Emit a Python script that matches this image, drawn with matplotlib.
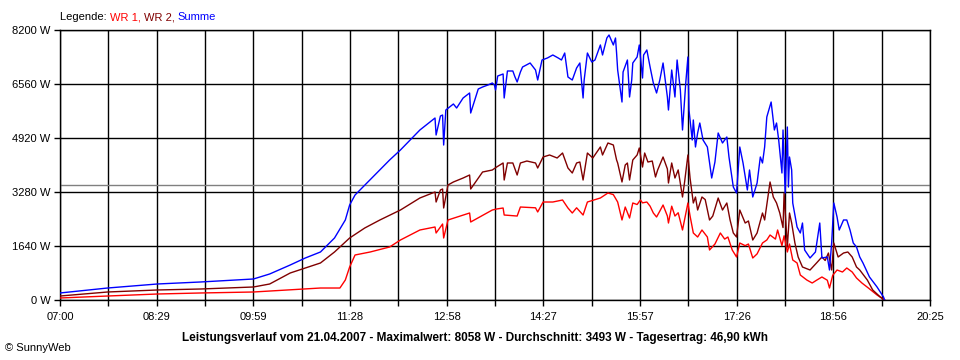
import numpy as np
import matplotlib
matplotlib.use("Agg")
import matplotlib.pyplot as plt

plt.rcParams["font.family"] = ["Liberation Sans", "DejaVu Sans"]

# time axis: minutes after 07:00, values in W
wr1_t = [0, 44, 90, 130, 179, 241, 259, 264, 268, 273, 287, 305, 315, 333, 347, 348, 354, 355, 359,
         379, 380, 400, 404, 410, 411, 423, 426, 440, 442, 447, 456, 465, 470, 474, 478, 484, 488,
         500, 507, 512, 516, 520, 523, 527, 530, 534, 537, 539, 543, 546, 549, 552, 555, 558, 562,
         563, 566, 569, 572, 576, 581, 583, 586, 590, 594, 599, 601, 606, 611, 615, 618, 622, 626,
         629, 634, 637, 641, 645, 650, 654, 657, 662, 664, 668, 670, 673, 675, 678, 682, 685, 691,
         696, 700, 705, 710, 712, 715, 719, 724, 728, 733, 737, 742, 748, 756, 763]
wr1_w = [61, 121, 182, 213, 243, 364, 364, 607, 1002, 1367, 1458, 1610, 1822, 2126, 2217, 2035, 2308, 1883, 2430,
         2642, 2369, 2733, 2764, 2794, 2581, 2550, 2824, 2800, 2673, 2976, 2976, 3037, 2794, 2642, 2800, 2581, 2976,
         3098, 3250, 3200, 2976, 2430, 2824, 2490, 2946, 2900, 3037, 2950, 2976, 2850, 2642, 2521, 2700, 2885, 2550,
         2338, 2850, 2550, 2650, 2126, 2946, 2550, 2035, 1913, 2126, 1913, 1519, 1700, 2035, 1850, 1913, 1519, 1306,
         1731, 1650, 1700, 1276, 1400, 1731, 1822, 1974, 1850, 2126, 1650, 1950, 1458, 1700, 1215, 1124, 759, 607,
         516, 600, 699, 600, 364, 750, 911, 850, 972, 850, 668, 516, 364, 152, 0]

wr2_t = [0, 44, 90, 130, 179, 194, 213, 227, 241, 254, 268, 282, 296, 315, 333, 347, 348, 352, 354,
         355, 359, 364, 373, 379, 380, 391, 400, 404, 410, 411, 414, 419, 423, 426, 432, 440, 442,
         447, 453, 460, 465, 470, 474, 478, 481, 484, 488, 493, 500, 502, 507, 512, 515, 516, 520,
         523, 525, 527, 530, 534, 536, 539, 541, 544, 548, 551, 553, 558, 562, 563, 566, 569, 572,
         576, 578, 581, 583, 586, 588, 590, 594, 597, 601, 604, 609, 613, 617, 620, 623, 626, 629,
         634, 637, 641, 645, 650, 652, 657, 660, 663, 666, 669, 670, 673, 675, 677, 680, 683, 687,
         694, 700, 705, 708, 711, 714, 716, 720, 725, 729, 733, 737, 740, 747, 752, 759, 763]
wr2_w = [121, 243, 304, 334, 395, 486, 820, 972, 1124, 1458, 1883, 2187, 2430, 2733, 3098, 3280, 2976, 3341, 3371,
         2794, 3493, 3584, 3705, 3796, 3371, 3887, 3948, 4039, 4161, 3644, 4161, 4161, 3796, 4161, 4221, 4161, 4009,
         4343, 4404, 4313, 4464, 4009, 3857, 4161, 4191, 3644, 4464, 4313, 4647, 4404, 4768, 4708, 4252, 4161, 3584,
         4100, 4161, 3644, 4252, 4404, 4617, 4039, 4464, 4191, 4221, 3736, 3948, 4343, 3980, 3553, 4161, 3705, 3950,
         3128, 3600, 4404, 3700, 2946, 3128, 2733, 3128, 3050, 2430, 2550, 3098, 2733, 2946, 2430, 2035, 1913, 2733,
         2338, 2400, 1822, 2035, 2642, 2430, 3584, 3128, 2946, 2642, 2200, 3250, 1610, 2642, 2338, 1731, 1306, 1002,
         911, 1124, 1306, 1200, 1427, 911, 1731, 1306, 1427, 1458, 1306, 1002, 911, 607, 304, 91, 0]

sum_t = [0, 44, 90, 130, 179, 194, 213, 227, 241, 254, 264, 268, 273, 284, 296, 305, 315, 324,
         333, 347, 348, 352, 354, 355, 357, 364, 367, 373, 379, 380, 387, 391, 396, 400, 402, 403,
         405, 410, 411, 414, 419, 421, 423, 426, 428, 435, 440, 442, 446, 451, 456, 461, 464, 467,
         470, 474, 478, 481, 484, 485, 488, 492, 495, 500, 502, 506, 508, 512, 514, 515, 516, 520,
         521, 525, 527, 529, 530, 534, 536, 539, 540, 543, 546, 549, 552, 555, 558, 562, 563, 566,
         569, 571, 574, 576, 579, 581, 582, 585, 586, 588, 590, 592, 595, 599, 603, 606, 609, 613,
         617, 619, 623, 626, 629, 632, 636, 638, 641, 645, 648, 650, 652, 654, 658, 661, 663, 665,
         668, 669, 671, 673, 674, 675, 677, 678, 682, 685, 687, 689, 694, 699, 703, 705, 710, 712,
         714, 716, 719, 721, 725, 728, 731, 734, 737, 740, 743, 749, 756, 762, 763]
sum_w = [213, 364, 486, 547, 638, 790, 1063, 1276, 1458, 1883, 2430, 2885, 3189, 3553, 3948, 4252, 4556, 4859,
         5163, 5527, 5011, 5588, 5618, 4707, 5770, 5953, 5831, 6135, 6287, 5679, 6408, 6469, 6530, 6590, 6530, 6378,
         6803, 6864, 6135, 6955, 6955, 6773, 6621, 6924, 7076, 7198, 6985, 6681, 7289, 7350, 7441, 7350, 7289, 7501,
         6773, 6681, 7046, 7198, 6135, 6681, 7501, 7228, 7289, 7745, 7441, 7957, 8048, 7745, 7957, 7501, 6985, 6013,
         6924, 7289, 6165, 6681, 7198, 7380, 7745, 6742, 7441, 7593, 7076, 6590, 6287, 6681, 7198, 6165, 5770, 6985,
         6165, 7289, 6378, 5163, 6590, 7380, 5770, 4859, 5467, 4647, 5072, 5375, 4859, 4647, 3705, 4191, 5072, 4768,
         4950, 4343, 3432, 3250, 4647, 4161, 3341, 3948, 3128, 3553, 4343, 4161, 4647, 5558, 6013, 5163, 5375, 4859,
         3857, 5163, 3250, 5254, 3432, 4343, 3948, 2946, 2217, 2035, 2338, 1519, 1276, 1458, 2338, 1276, 1306, 911,
         1731, 2946, 2521, 2126, 2430, 2430, 2126, 1731, 1610, 1306, 1124, 699, 395, 91, 0]

avg_w = 3493
y_ticks = [0, 1640, 3280, 4920, 6560, 8200]
x_labels = ["07:00", "08:29", "09:59", "11:28", "12:58", "14:27", "15:57", "17:26", "18:56", "20:25"]
title = ("Leistungsverlauf vom 21.04.2007 - Maximalwert: 8058 W - "
         "Durchschnitt: 3493 W - Tagesertrag: 46,90 kWh")

fig = plt.figure(figsize=(9.6, 3.6), dpi=100)
ax = fig.add_axes([60 / 960, 60 / 360, 870 / 960, 270 / 360])

x_grid = np.linspace(0, 805, 19)
for xv in x_grid:
    ax.axvline(xv, color="black", lw=1.0, zorder=1)
for yv in y_ticks:
    ax.axhline(yv, color="black", lw=1.0, zorder=1)
ax.axhline(avg_w, color="#808080", lw=1.0, zorder=1)

ax.plot(wr1_t, wr1_w, color="#ff0000", lw=1.0, zorder=3)
ax.plot(wr2_t, wr2_w, color="#800000", lw=1.0, zorder=3)
ax.plot(sum_t, sum_w, color="#0000ff", lw=1.0, zorder=4)

ax.set_xlim(0, 805)
ax.set_ylim(0, 8200)
ax.set_xticks(x_grid)
ax.set_xticklabels([x_labels[i // 2] if i % 2 == 0 else "" for i in range(19)])
ax.set_yticks(y_ticks)
ax.set_yticklabels([f"{v} W" for v in y_ticks])
ax.tick_params(length=4, width=1.0, labelsize=8, color="black")
ax.tick_params(axis="y", pad=3)
ax.tick_params(axis="x", pad=5)
for s in ax.spines.values():
    s.set_linewidth(1.0)

fig.text(475 / 960, 1 - 338 / 360, title, ha="center", va="center",
         fontsize=8.5, fontweight="bold")
fig.text(5 / 960, 1 - 348 / 360, "\u00a9 SunnyWeb", ha="left", va="center", fontsize=8)

# legend as coloured text pieces
renderer = fig.canvas.get_renderer()
xpos = 60
for txt, col in [("Legende: ", "black"), ("WR 1, ", "#ff0000"),
                 ("WR 2, ", "#800000"), ("Summe", "#0000ff")]:
    t = fig.text(xpos / 960, 1 - 17 / 360, txt, ha="left", va="center",
                 fontsize=8, color=col)
    xpos += t.get_window_extent(renderer).width

fig.savefig("out.png", dpi=100, facecolor="white")
